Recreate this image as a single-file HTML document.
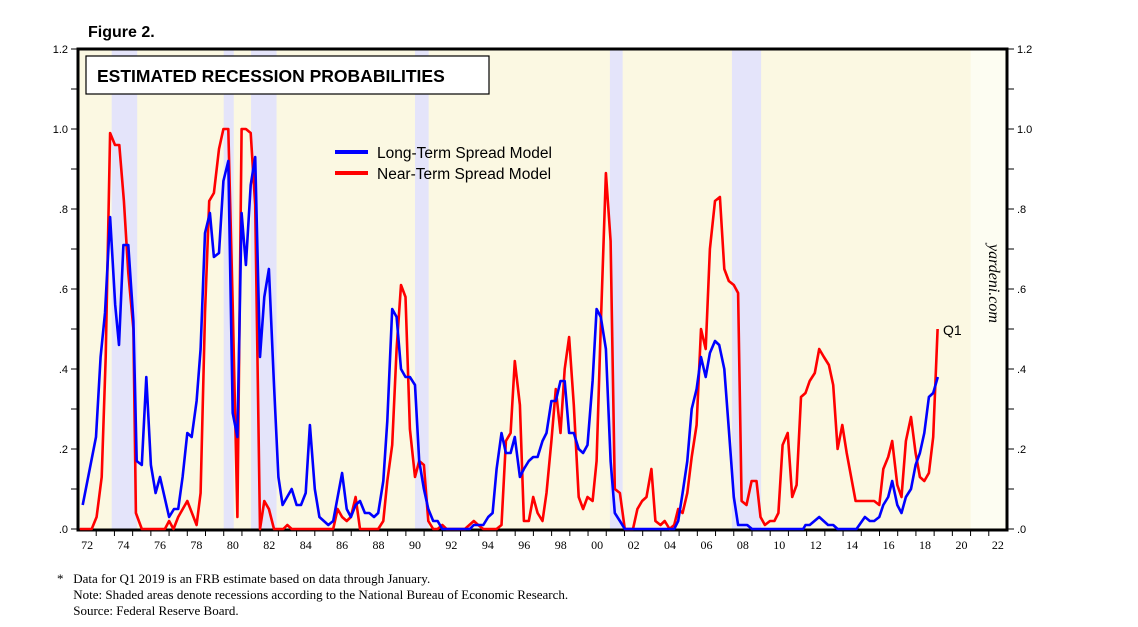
<!DOCTYPE html>
<html><head><meta charset="utf-8"><style>
body{margin:0;background:#fff;width:1138px;height:627px;overflow:hidden;font-family:"Liberation Sans",sans-serif}
svg{position:absolute;left:0;top:0}
.foot{position:absolute;left:57px;font-family:"Liberation Serif",serif;font-size:13px;color:#000;line-height:16px}
</style></head><body>
<svg id="chart" width="1138" height="627"></svg>
<div class="foot" style="top:571px">*&nbsp;&nbsp;&nbsp;Data for Q1 2019 is an FRB estimate based on data through January.<br>&nbsp;&nbsp;&nbsp;&nbsp;&nbsp;Note: Shaded areas denote recessions according to the National Bureau of Economic Research.<br>&nbsp;&nbsp;&nbsp;&nbsp;&nbsp;Source: Federal Reserve Board.</div>
<script>
const recStart=[1973.85,1980.0,1981.5,1990.5,2001.2,2007.9];
const recEnd=[1975.25,1980.55,1982.9,1991.25,2001.9,2009.5];
const yTicks=[0,0.2,0.4,0.6,0.8,1.0,1.2];
const yTickLabels=[".0",".2",".4",".6",".8","1.0","1.2"];
const xLabelYears=[1972,1974,1976,1978,1980,1982,1984,1986,1988,1990,1992,1994,1996,1998,2000,2002,2004,2006,2008,2010,2012,2014,2016,2018,2020,2022];
const longYears=[1972.26,1972.99,1973.24,1973.48,1973.76,1974.04,1974.25,1974.49,1974.76,1975.04,1975.22,1975.5,1975.75,1976.0,1976.26,1976.5,1977.0,1977.27,1977.5,1977.74,1978.0,1978.24,1978.51,1978.73,1978.97,1979.24,1979.46,1979.74,1979.98,1980.25,1980.49,1980.75,1980.98,1981.22,1981.48,1981.73,1981.99,1982.23,1982.48,1982.76,1983.0,1983.23,1983.73,1984.0,1984.24,1984.5,1984.73,1985.0,1985.25,1985.74,1986.01,1986.5,1986.75,1986.98,1987.24,1987.48,1987.75,1987.99,1988.25,1988.48,1988.76,1988.98,1989.25,1989.49,1989.73,1989.98,1990.22,1990.5,1990.73,1990.99,1991.23,1991.5,1991.74,1992.0,1993.51,1993.73,1994.25,1994.52,1994.76,1994.98,1995.25,1995.49,1995.75,1995.98,1996.26,1996.48,1996.75,1996.99,1997.23,1997.5,1997.72,1997.99,1998.23,1998.49,1998.72,1998.96,1999.22,1999.49,1999.73,1999.97,2000.25,2000.47,2000.7,2000.98,2001.24,2001.47,2001.75,2002.02,2004.73,2004.95,2005.19,2005.45,2005.69,2005.96,2006.2,2006.46,2006.69,2006.97,2007.2,2007.48,2007.73,2008.0,2008.24,2008.52,2008.74,2009.0,2011.81,2011.94,2012.17,2012.69,2013.18,2013.46,2013.7,2014.74,2015.2,2015.47,2015.71,2015.99,2016.21,2016.48,2016.7,2016.98,2017.21,2017.45,2017.73,2017.98,2018.22,2018.46,2018.71,2018.95,2019.2];
const longVals=[.06,.23,.43,.54,.78,.56,.46,.71,.71,.52,.17,.16,.38,.16,.09,.13,.03,.05,.05,.13,.24,.23,.32,.45,.74,.79,.68,.69,.87,.92,.29,.23,.79,.66,.86,.93,.43,.58,.65,.36,.13,.06,.10,.06,.06,.09,.26,.10,.03,.01,.02,.14,.05,.03,.06,.07,.04,.04,.03,.04,.12,.27,.55,.53,.40,.38,.38,.36,.17,.10,.05,.02,.02,0,0,.01,.01,.03,.04,.15,.24,.19,.19,.23,.13,.15,.17,.18,.18,.22,.24,.32,.32,.37,.37,.24,.24,.20,.19,.21,.37,.55,.53,.45,.17,.04,.02,0,0,.02,.09,.17,.30,.35,.43,.38,.44,.47,.46,.40,.25,.08,.01,.01,.01,0,0,.01,.01,.03,.01,.01,0,0,.03,.02,.02,.03,.06,.08,.12,.06,.04,.08,.10,.16,.19,.24,.33,.34,.38];
const nearYears=[1972.1,1972.75,1973.02,1973.3,1973.52,1973.76,1974.03,1974.27,1974.52,1974.76,1975.04,1975.18,1975.5,1976.77,1977.0,1977.24,1977.5,1978.0,1978.51,1978.73,1978.97,1979.2,1979.46,1979.74,1979.98,1980.25,1980.49,1980.75,1980.98,1981.22,1981.48,1981.73,1981.99,1982.23,1982.48,1982.76,1983.27,1983.49,1983.73,1986.01,1986.25,1986.5,1986.75,1986.98,1987.24,1987.48,1988.48,1988.76,1988.98,1989.25,1989.49,1989.73,1989.98,1990.22,1990.5,1990.73,1990.99,1991.23,1991.5,1991.74,1992.0,1992.23,1993.24,1993.73,1993.97,1994.25,1994.98,1995.25,1995.49,1995.75,1995.98,1996.26,1996.48,1996.75,1996.99,1997.23,1997.5,1997.72,1997.99,1998.23,1998.49,1998.72,1998.96,1999.22,1999.49,1999.73,1999.97,2000.25,2000.47,2000.7,2000.98,2001.24,2001.47,2001.75,2002.02,2002.47,2002.71,2002.97,2003.21,2003.48,2003.7,2003.98,2004.21,2004.48,2004.73,2004.95,2005.19,2005.45,2005.69,2005.96,2006.2,2006.46,2006.69,2006.97,2007.24,2007.48,2007.73,2008.0,2008.24,2008.43,2008.7,2008.98,2009.25,2009.47,2009.71,2009.99,2010.23,2010.45,2010.68,2010.96,2011.21,2011.45,2011.69,2011.94,2012.17,2012.45,2012.69,2012.95,2013.22,2013.46,2013.7,2013.96,2014.2,2014.69,2015.71,2015.99,2016.21,2016.48,2016.7,2016.98,2017.21,2017.45,2017.73,2017.98,2018.22,2018.46,2018.71,2018.95,2019.19];
const nearVals=[0,0,.03,.13,.43,.99,.96,.96,.82,.64,.50,.04,0,0,.02,0,.03,.07,.01,.09,.54,.82,.84,.95,1.0,1.0,.56,.03,1.0,1.0,.99,.81,0,.07,.05,0,0,.01,0,0,.05,.03,.02,.03,.08,0,0,.02,.12,.21,.45,.61,.58,.25,.13,.17,.16,.02,0,0,.01,0,0,.02,.01,0,0,.01,.22,.24,.42,.31,.02,.02,.08,.04,.02,.09,.22,.35,.24,.40,.48,.31,.08,.05,.08,.07,.17,.51,.89,.72,.10,.09,0,0,.05,.07,.08,.15,.02,.01,.02,0,.01,.05,.04,.09,.18,.26,.50,.45,.70,.82,.83,.65,.62,.61,.59,.07,.06,.12,.12,.03,.01,.02,.02,.04,.21,.24,.08,.11,.33,.34,.37,.39,.45,.43,.41,.36,.20,.26,.19,.07,.07,.06,.15,.18,.22,.11,.08,.22,.28,.19,.13,.12,.14,.23,.50];

const NS="http://www.w3.org/2000/svg";
const svg=document.getElementById('chart');
const L=78,R=1007,T=49,B=530,X0=1972,X1=2023,YMAX=1.2;
const xs=t=>L+(t-X0)*(R-L)/(X1-X0);
const ys=v=>B-1-v*(B-1-T)/YMAX;
function mk(tag,attrs,parent){const e=document.createElementNS(NS,tag);for(const k in attrs)e.setAttribute(k,attrs[k]);(parent||svg).appendChild(e);return e;}

let e=mk('rect',{x:L,y:T,width:R-L,height:B-T,fill:'#fdfdf2'});


e=mk('rect',{x:L,y:T,width:xs(2021)-L,height:B-T,fill:'#fbf8e2'});


for(let i=0;i<recStart.length;i++){
  e=mk('rect',{x:xs(recStart[i]),y:T,width:xs(recEnd[i])-xs(recStart[i]),height:B-T,fill:'#e4e4fa'});
  
  
}
for(let k=0;k<=12;k++){
  const y=ys(k/10);
  e=mk('line',{x1:L-7,x2:L,y1:y,y2:y,stroke:'#000','stroke-width':1});
  
  
  e=mk('line',{x1:R,x2:R+7,y1:y,y2:y,stroke:'#000','stroke-width':1});
  
  
}
yTicks.forEach((v,i)=>{
  e=mk('text',{x:L-10,y:ys(v)+4,'text-anchor':'end','font-size':11,fill:'#000'});e.textContent=yTickLabels[i];
  
  
  e=mk('text',{x:R+10,y:ys(v)+4,'text-anchor':'start','font-size':11,fill:'#000'});e.textContent=yTickLabels[i];
  
  
});
for(let yr=X0+1;yr<X1;yr++){
  e=mk('line',{x1:xs(yr),x2:xs(yr),y1:B,y2:B+6,stroke:'#000','stroke-width':1});
  
  
}
xLabelYears.forEach(yr=>{
  e=mk('text',{x:xs(yr+0.5),y:B+19,'text-anchor':'middle','font-size':12,fill:'#000','font-family':'Liberation Serif, serif'});
  e.textContent=String(yr%100).padStart(2,'0');
  
  
});
e=mk('rect',{x:L,y:T,width:R-L,height:B-T,fill:'none',stroke:'#000','stroke-width':3});


function series(years,vals,color,name){
  const d=years.map((t,i)=>(i?'L':'M')+xs(t).toFixed(1)+','+ys(vals[i]).toFixed(1)).join('');
  const p=mk('path',{d:d,fill:'none',stroke:color,'stroke-width':2.6,'stroke-linejoin':'round'});
  
  
}
series(nearYears,nearVals,'#ff0000','near-term-spread-line');
series(longYears,longVals,'#0000ff','long-term-spread-line');
e=mk('rect',{x:86,y:56,width:403,height:38,fill:'#fff',stroke:'#000','stroke-width':1.2});


e=mk('text',{x:97,y:82,'font-size':17.5,'font-weight':'bold',fill:'#000'});e.textContent='ESTIMATED RECESSION PROBABILITIES';


e=mk('text',{x:88,y:37,'font-size':16,'font-weight':'bold',fill:'#000'});e.textContent='Figure 2.';


e=mk('line',{x1:335,x2:368,y1:152,y2:152,stroke:'#0000ff','stroke-width':4});


e=mk('text',{x:377,y:158,'font-size':15.5,fill:'#000'});e.textContent='Long-Term Spread Model';


e=mk('line',{x1:335,x2:368,y1:173,y2:173,stroke:'#ff0000','stroke-width':4});


e=mk('text',{x:377,y:179,'font-size':15.5,fill:'#000'});e.textContent='Near-Term Spread Model';


e=mk('text',{x:943,y:335,'font-size':14,fill:'#000'});e.textContent='Q1';


e=mk('text',{x:0,y:0,'font-size':16,'font-style':'italic','font-family':'Liberation Serif, serif',fill:'#000',transform:'translate(989,244) rotate(90)'});e.textContent='yardeni.com';


</script>
</body></html>
